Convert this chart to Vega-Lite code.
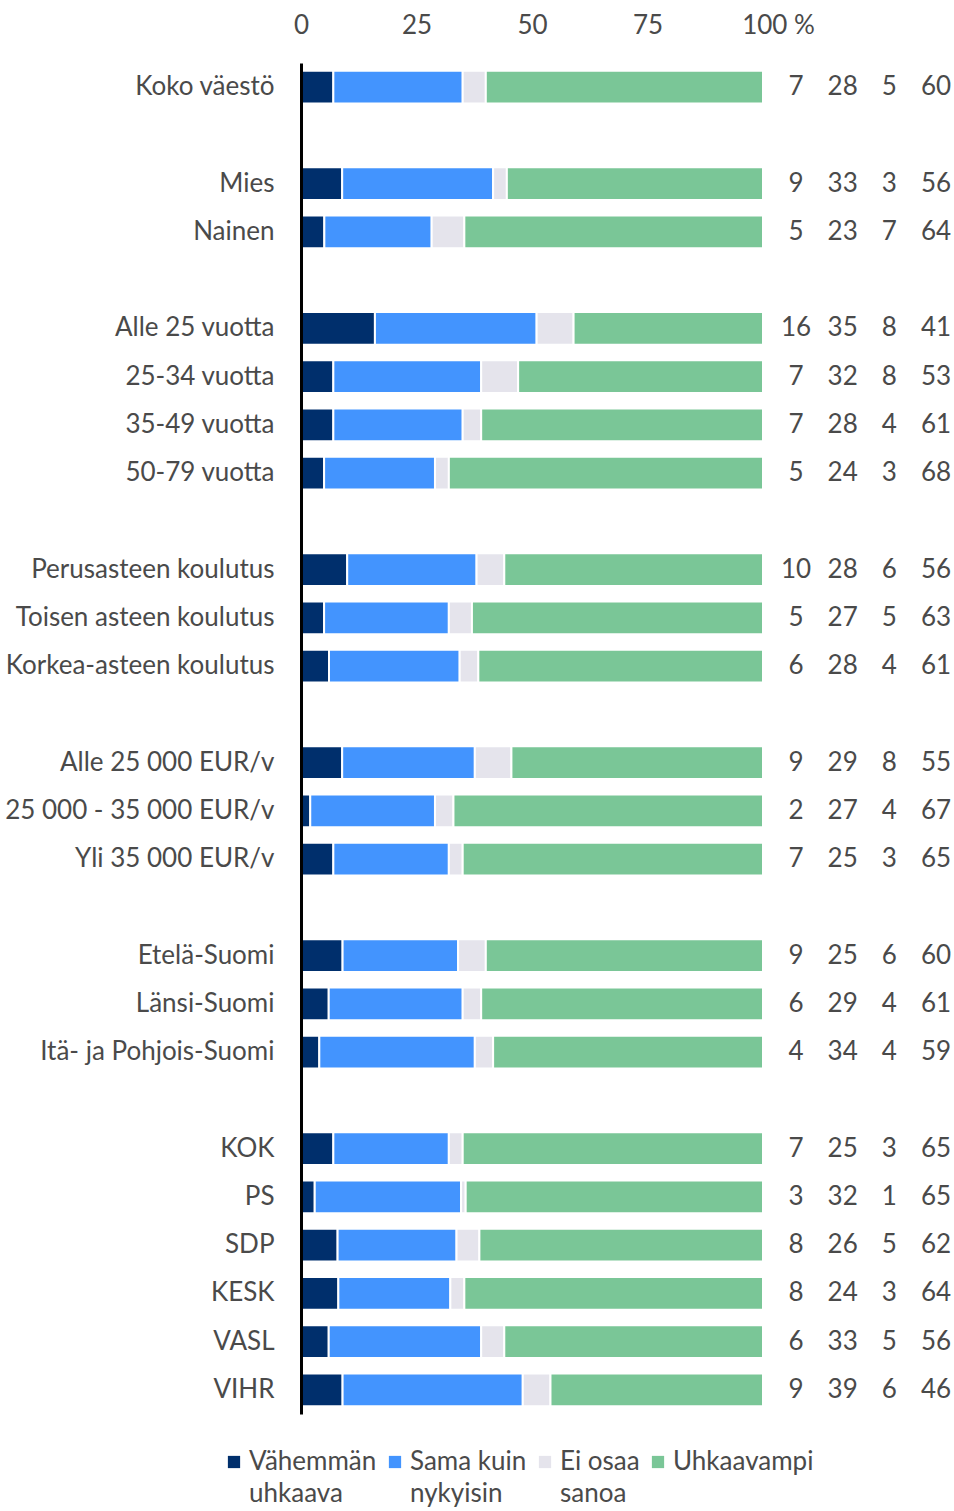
{
  "$schema": "https://vega.github.io/schema/vega-lite/v6.json",
  "width": 462,
  "height": 1351,
  "autosize": "none",
  "padding": {"left": 301, "top": 63, "right": 191, "bottom": 97},
  "background": "white",
  "config": {
    "font": "Lato",
    "view": {"stroke": null},
    "style": {"guide-label": {"lineHeight": 32}}
  },
  "data": {
    "values": [
      {"g": "Koko väestö", "v1": 7, "v2": 28, "v3": 5, "v4": 60},
      {"g": "Mies", "v1": 9, "v2": 33, "v3": 3, "v4": 56},
      {"g": "Nainen", "v1": 5, "v2": 23, "v3": 7, "v4": 64},
      {"g": "Alle 25 vuotta", "v1": 16, "v2": 35, "v3": 8, "v4": 41},
      {"g": "25-34 vuotta", "v1": 7, "v2": 32, "v3": 8, "v4": 53},
      {"g": "35-49 vuotta", "v1": 7, "v2": 28, "v3": 4, "v4": 61},
      {"g": "50-79 vuotta", "v1": 5, "v2": 24, "v3": 3, "v4": 68},
      {"g": "Perusasteen koulutus", "v1": 10, "v2": 28, "v3": 6, "v4": 56},
      {"g": "Toisen asteen koulutus", "v1": 5, "v2": 27, "v3": 5, "v4": 63},
      {"g": "Korkea-asteen koulutus", "v1": 6, "v2": 28, "v3": 4, "v4": 61},
      {"g": "Alle 25 000 EUR/v", "v1": 9, "v2": 29, "v3": 8, "v4": 55},
      {"g": "25 000 - 35 000 EUR/v", "v1": 2, "v2": 27, "v3": 4, "v4": 67},
      {"g": "Yli 35 000 EUR/v", "v1": 7, "v2": 25, "v3": 3, "v4": 65},
      {"g": "Etelä-Suomi", "v1": 9, "v2": 25, "v3": 6, "v4": 60},
      {"g": "Länsi-Suomi", "v1": 6, "v2": 29, "v3": 4, "v4": 61},
      {"g": "Itä- ja Pohjois-Suomi", "v1": 4, "v2": 34, "v3": 4, "v4": 59},
      {"g": "KOK", "v1": 7, "v2": 25, "v3": 3, "v4": 65},
      {"g": "PS", "v1": 3, "v2": 32, "v3": 1, "v4": 65},
      {"g": "SDP", "v1": 8, "v2": 26, "v3": 5, "v4": 62},
      {"g": "KESK", "v1": 8, "v2": 24, "v3": 3, "v4": 64},
      {"g": "VASL", "v1": 6, "v2": 33, "v3": 5, "v4": 56},
      {"g": "VIHR", "v1": 9, "v2": 39, "v3": 6, "v4": 46}
    ]
  },
  "transform": [{"fold": ["v1", "v2", "v3", "v4"], "as": ["k", "v"]}],
  "encoding": {
    "y": {
      "field": "g",
      "type": "nominal",
      "scale": {
        "domain": ["Koko väestö", " ", "Mies", "Nainen", "  ", "Alle 25 vuotta", "25-34 vuotta", "35-49 vuotta", "50-79 vuotta", "   ", "Perusasteen koulutus", "Toisen asteen koulutus", "Korkea-asteen koulutus", "    ", "Alle 25 000 EUR/v", "25 000 - 35 000 EUR/v", "Yli 35 000 EUR/v", "     ", "Etelä-Suomi", "Länsi-Suomi", "Itä- ja Pohjois-Suomi", "      ", "KOK", "PS", "SDP", "KESK", "VASL", "VIHR"],
        "paddingInner": 0.32,
        "paddingOuter": 0.16
      },
      "axis": {
        "title": null,
        "ticks": false,
        "domainColor": "#000000",
        "domainWidth": 3,
        "labelFontSize": 26,
        "labelColor": "#4a4a4a",
        "labelPadding": 27,
        "labelLimit": 400,
        "zindex": 1
      }
    }
  },
  "layer": [
    {
      "mark": {"type": "bar", "stroke": "white", "strokeWidth": 2},
      "encoding": {
        "x": {
          "field": "v",
          "type": "quantitative",
          "stack": "normalize",
          "scale": {"domain": [0, 1], "nice": false},
          "axis": {
            "orient": "top",
            "title": null,
            "values": [0, 0.25, 0.5, 0.75, 1],
            "labelExpr": "datum.value == 1 ? '100 %' : '' + round(datum.value * 100)",
            "labelOffset": {"condition": {"test": "datum.value == 1", "value": 15}, "value": 0},
            "labelFlush": false,
            "grid": false,
            "ticks": false,
            "domain": false,
            "labelFontSize": 26,
            "labelColor": "#4a4a4a",
            "labelPadding": 25
          }
        },
        "color": {
          "field": "k",
          "type": "nominal",
          "scale": {
            "domain": ["v1", "v2", "v3", "v4"],
            "range": ["#002f6c", "#4394fe", "#e5e4ec", "#7ac697"]
          },
          "legend": {
            "orient": "none",
            "legendX": -80,
            "legendY": 1386,
            "direction": "horizontal",
            "title": null,
            "symbolType": "square",
            "symbolSize": 150,
            "symbolStrokeWidth": 0,
            "labelFontSize": 26,
            "labelColor": "#4a4a4a",
            "labelLimit": 400,
            "labelOffset": 2,
            "columnPadding": 5,
            "labelExpr": "datum.label == 'v1' ? ['Vähemmän', 'uhkaava'] : datum.label == 'v2' ? ['Sama kuin', 'nykyisin'] : datum.label == 'v3' ? ['Ei osaa', 'sanoa'] : ['Uhkaavampi', '']"
          }
        },
        "order": {"field": "k", "sort": "ascending"}
      }
    },
    {
      "mark": {"type": "text", "fontSize": 26, "color": "#4a4a4a", "align": "center", "baseline": "middle"},
      "encoding": {
        "x": {
          "field": "k",
          "type": "nominal",
          "scale": {"type": "point", "domain": ["v1", "v2", "v3", "v4"], "range": [495, 635], "padding": 0},
          "axis": null
        },
        "text": {"field": "v", "type": "quantitative"}
      }
    }
  ],
  "resolve": {"scale": {"x": "independent"}}
}
